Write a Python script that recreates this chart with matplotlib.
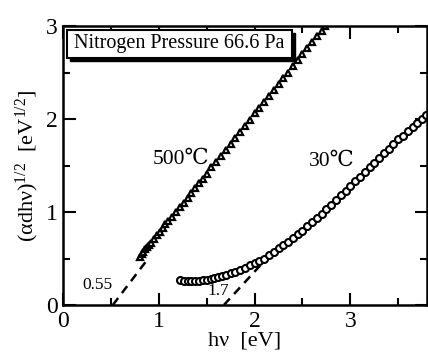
import matplotlib
matplotlib.use("Agg")
import matplotlib.pyplot as plt
from matplotlib.patches import Rectangle
from matplotlib.ticker import MultipleLocator

plt.rcParams['font.family'] = ['Liberation Serif', 'DejaVu Serif']
plt.rcParams['mathtext.fontset'] = 'custom'
plt.rcParams['mathtext.rm'] = 'Liberation Serif'
plt.rcParams['mathtext.it'] = 'Liberation Serif:italic'
plt.rcParams['mathtext.bf'] = 'Liberation Serif:bold'

# 500 C series (triangles)
x500 = [0.80, 0.82, 0.84, 0.86, 0.88, 0.90, 0.92, 0.95, 0.98, 1.01, 1.04, 1.07,
        1.10, 1.14, 1.18, 1.22, 1.26, 1.30, 1.34, 1.38, 1.42, 1.46, 1.50, 1.55,
        1.60, 1.65, 1.70, 1.75, 1.80, 1.85, 1.90, 1.95, 2.00, 2.05, 2.10, 2.15,
        2.20, 2.25, 2.30, 2.35, 2.40, 2.45, 2.50, 2.55, 2.60, 2.65, 2.70, 2.74]
y500 = [0.52, 0.55, 0.57, 0.60, 0.62, 0.65, 0.67, 0.71, 0.75, 0.79, 0.83, 0.87,
        0.90, 0.95, 1.00, 1.05, 1.10, 1.15, 1.20, 1.26, 1.31, 1.36, 1.41, 1.48,
        1.54, 1.60, 1.67, 1.73, 1.80, 1.86, 1.93, 1.99, 2.06, 2.12, 2.18, 2.25,
        2.31, 2.38, 2.44, 2.50, 2.57, 2.63, 2.70, 2.76, 2.83, 2.89, 2.95, 3.00]

# 30 C series (circles)
x30 = [1.22, 1.26, 1.30, 1.34, 1.38, 1.42, 1.46, 1.50, 1.54, 1.58, 1.62, 1.66,
       1.70, 1.75, 1.80, 1.85, 1.90, 1.95, 2.00, 2.05, 2.10, 2.15, 2.20, 2.25,
       2.30, 2.35, 2.40, 2.45, 2.50, 2.55, 2.60, 2.65, 2.70, 2.75, 2.80, 2.85,
       2.90, 2.95, 3.00, 3.05, 3.10, 3.15, 3.20, 3.25, 3.30, 3.35, 3.40, 3.45,
       3.50, 3.55, 3.60, 3.65, 3.70, 3.75, 3.79]
y30 = [0.27, 0.26, 0.26, 0.26, 0.26, 0.26, 0.27, 0.27, 0.28, 0.29, 0.30, 0.31,
       0.32, 0.34, 0.36, 0.38, 0.40, 0.43, 0.45, 0.47, 0.50, 0.54, 0.57, 0.61,
       0.64, 0.68, 0.72, 0.76, 0.80, 0.85, 0.89, 0.94, 0.98, 1.03, 1.08, 1.13,
       1.18, 1.23, 1.28, 1.33, 1.38, 1.43, 1.48, 1.53, 1.58, 1.63, 1.68, 1.73,
       1.78, 1.82, 1.87, 1.91, 1.96, 2.00, 2.04]

# extrapolation (dashed) lines
fit500_x = [0.52, 0.86]
fit500_y = [0.00, 0.46]
fit30_x = [1.68, 2.09]
fit30_y = [0.00, 0.46]

xticks = [0, 1, 2, 3]
yticks = [0, 1, 2, 3]

fig = plt.figure(figsize=(4.28, 3.64), dpi=100)
ax = fig.add_axes([63/428, 59/364, 364/428, 279/364])

ax.plot(fit500_x, fit500_y, color='black', lw=1.8, ls=(0, (3.5, 2.5)))
ax.plot(fit30_x, fit30_y, color='black', lw=1.8, ls=(0, (3.5, 2.5)))
ax.plot(x500, y500, ls='none', marker='^', ms=4.5, mfc='white', mec='black', mew=1.6)
ax.plot(x30, y30, ls='none', marker='o', ms=5, mfc='white', mec='black', mew=1.5)

ax.set_xlim(0, 3.8)
ax.set_ylim(0, 3)
ax.set_xticks(xticks)
ax.set_yticks(yticks)
ax.xaxis.set_minor_locator(MultipleLocator(0.5))
ax.yaxis.set_minor_locator(MultipleLocator(0.5))
ax.tick_params(which='both', direction='in', top=True, right=True, width=1.5)
ax.tick_params(which='major', length=9, labelsize=17, pad=4)
ax.tick_params(which='minor', length=5)
for s in ax.spines.values():
    s.set_linewidth(1.8)

ax.set_xlabel('hν  [eV]', fontsize=16, labelpad=0)
ax.set_ylabel(r'(αdhν)$^{1/2}$  [eV$^{1/2}$]', fontsize=16, labelpad=3)

ax.text(1.23, 1.57, '500℃', fontsize=15.5, ha='center', va='center')
ax.text(2.80, 1.54, '30℃', fontsize=15.5, ha='center', va='center')
ax.text(0.36, 0.21, '0.55', fontsize=12.5, ha='center', va='center')
ax.text(1.62, 0.15, '1.7', fontsize=12.5, ha='center', va='center')

# title box with shadow
ax.add_patch(Rectangle((0.075, 2.625), 2.35, 0.30, facecolor='black', edgecolor='black', zorder=5))
ax.add_patch(Rectangle((0.04, 2.66), 2.35, 0.30, facecolor='white', edgecolor='black', lw=1.5, zorder=6))
ax.text(1.215, 2.81, 'Nitrogen Pressure 66.6 Pa', fontsize=14.5, ha='center', va='center', zorder=7)

fig.savefig('out.png', dpi=100)
